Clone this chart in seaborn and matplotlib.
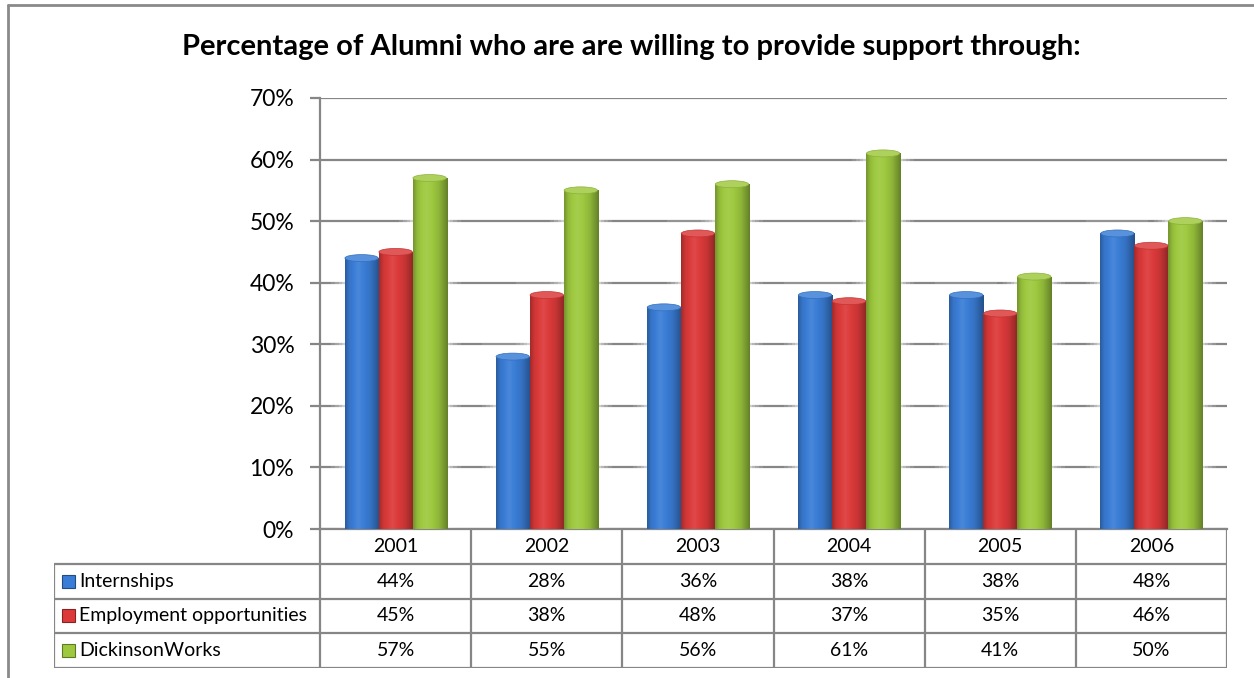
import numpy as np
import pandas as pd
import matplotlib
matplotlib.use("Agg")
import matplotlib.pyplot as plt
from matplotlib.patches import Rectangle, Ellipse
from matplotlib.lines import Line2D
from matplotlib.colors import to_rgb
import seaborn as sns

# ---- data -------------------------------------------------------------
years = ["2001", "2002", "2003", "2004", "2005", "2006"]
series = ["Internships", "Employment opportunities", "DickinsonWorks"]
internships = [44, 28, 36, 38, 38, 48]
employment = [45, 38, 48, 37, 35, 46]
dickinson_works = [57, 55, 56, 61, 41, 50]
series_colors = ["#3A7DD6", "#DC3A3A", "#9EC93F"]
y_ticks = [0, 10, 20, 30, 40, 50, 60, 70]
title = "Percentage of Alumni who are are willing to provide support through:"

values = [internships, employment, dickinson_works]
rows = []
for name, vals in zip(series, values):
    for yr, v in zip(years, vals):
        rows.append({"year": yr, "series": name, "value": v / 100.0})
df = pd.DataFrame(rows)

# ---- style ------------------------------------------------------------
sns.set_theme(style="white")
plt.rcParams["font.family"] = ["Lato", "DejaVu Sans"]
plt.rcParams["text.color"] = "black"
GRID = "#868686"

W, H = 1254, 678
fig = plt.figure(figsize=(W / 100, H / 100), dpi=100)
fig.patch.set_facecolor("white")

# plot area
ax = fig.add_axes([320 / W, 1 - 529 / H, 907 / W, 431 / H])
sns.barplot(data=df, x="year", y="value", hue="series", order=years,
            hue_order=series, palette=series_colors, width=0.675,
            saturation=1, linewidth=0, edgecolor="none", legend=False,
            ax=ax, zorder=3)
ax.set_xlim(-0.5, len(years) - 0.5)
ax.set_ylim(0, y_ticks[-1] / 100)
ax.set_yticks(np.array(y_ticks) / 100)
ax.set_yticklabels([f"{t}%" for t in y_ticks])
ax.set_xticks([])
ax.set_xlabel("")
ax.set_ylabel("")
ax.set_axisbelow(True)
ax.grid(axis="y", color=GRID, lw=1.6)
ax.grid(axis="x", visible=False)
for s in ("top", "right"):
    ax.spines[s].set_visible(False)
for s in ("left", "bottom"):
    ax.spines[s].set_color(GRID)
    ax.spines[s].set_linewidth(1.6)
ax.tick_params(axis="y", length=7.5, width=1.6, color=GRID, pad=11,
               labelsize=16.5, labelcolor="black", left=True)
ax.set_facecolor("white")


def shade(rgb, k):
    rgb = np.array(rgb)
    if k >= 1:
        return rgb + (1 - rgb) * (k - 1)
    return rgb * k


# cylinder-style shading for each bar
unit_px = 907 / len(years)
px_per_unit_y = 431 / (y_ticks[-1] / 100)
bars = [p for p in ax.patches if isinstance(p, Rectangle)]
for p in bars:
    x, w, h = p.get_x(), p.get_width(), p.get_height()
    base = to_rgb(p.get_facecolor())
    # soft halo around the bar
    for k, a in [(14, 0.12), (10, 0.16), (6, 0.22), (3, 0.3)]:
        dx = k / unit_px
        dy = k / px_per_unit_y
        ax.add_patch(Rectangle((x - dx, 0), w + 2 * dx, h + dy, facecolor="white",
                               edgecolor="none", alpha=a, zorder=2))
    t = np.linspace(0, 1, 64)
    stops_t = [0.0, 0.12, 0.38, 0.75, 1.0]
    stops_k = [0.74, 0.93, 1.08, 0.9, 0.64]
    kk = np.interp(t, stops_t, stops_k)
    img = np.array([[np.clip(shade(base, k), 0, 1) for k in kk]])
    im = ax.imshow(img, extent=[x, x + w, 0, h], aspect="auto",
                   interpolation="bilinear", zorder=3.5)
    im.set_clip_path(p)
    # elliptical top
    cap_h = 7 / px_per_unit_y
    ax.add_patch(Ellipse((x + w / 2, h), w * 0.98, cap_h,
                         facecolor=np.clip(shade(base, 1.15), 0, 1),
                         edgecolor=np.clip(shade(base, 0.88), 0, 1), lw=0.5,
                         zorder=4))

# ---- data table ---------------------------------------------------------
x0 = -0.5 - (320 - 54) / unit_px
tx = fig.add_axes([54 / W, 1 - 668 / H, (1227 - 54) / W, (668 - 529) / H])
tx.set_xlim(x0, len(years) - 0.5)
tx.set_ylim(len(series) + 1, 0)
tx.axis("off")
n_rows = len(series) + 1
lkw = dict(color=GRID, lw=1.6, solid_capstyle="butt")
for r in range(1, n_rows + 1):
    tx.plot([x0, len(years) - 0.5], [r, r], **lkw)
for c in range(len(years) + 1):
    tx.plot([c - 0.5, c - 0.5], [0, n_rows], **lkw)
tx.plot([x0, x0], [1, n_rows], **lkw)

for c, yr in enumerate(years):
    tx.text(c, 0.5, yr, ha="center", va="center", fontsize=14, color="black")
for r, (name, vals, col) in enumerate(zip(series, values, series_colors)):
    yc = r + 1.5
    base = to_rgb(col)
    sq_w = 13 / unit_px
    sq_h = 13 / ((668 - 529) / n_rows)
    tx.add_patch(Rectangle((x0 + 8 / unit_px, yc - sq_h / 2), sq_w, sq_h,
                           facecolor=base, edgecolor=shade(base, 0.6), lw=0.8))
    tx.text(x0 + 25 / unit_px, yc, name, ha="left", va="center", fontsize=14,
            color="black")
    for c, v in enumerate(vals):
        tx.text(c, yc, f"{v}%", ha="center", va="center", fontsize=14,
                color="black")

# ---- title and frame ----------------------------------------------------
fig.text(631 / W, 1 - 47 / H, title, ha="center", va="center",
         fontsize=21, fontweight="bold", color="black")
fig.add_artist(Line2D([8 / W, 1], [1 - 5 / H, 1 - 5 / H], color="#8A8A8A", lw=2,
                      transform=fig.transFigure))
fig.add_artist(Line2D([8 / W, 8 / W], [0, 1 - 5 / H], color="#8A8A8A", lw=2,
                      transform=fig.transFigure))

fig.savefig("out.png", dpi=100)
